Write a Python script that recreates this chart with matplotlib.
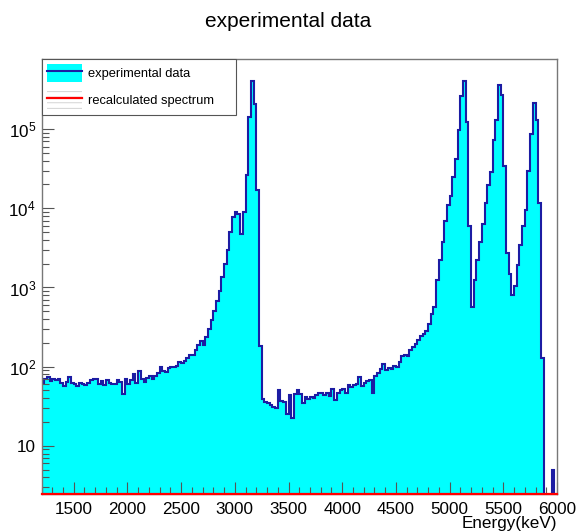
import numpy as np
import matplotlib
matplotlib.use("Agg")
from matplotlib import pyplot as plt
from matplotlib.patches import Patch
from matplotlib.lines import Line2D
from matplotlib.ticker import MultipleLocator, LogLocator, FuncFormatter

plt.rcParams['font.family'] = ['Liberation Sans', 'DejaVu Sans']
plt.rcParams['mathtext.fontset'] = 'custom'
plt.rcParams['mathtext.rm'] = 'Liberation Sans'
plt.rcParams['mathtext.it'] = 'Liberation Sans:italic'
plt.rcParams['hatch.linewidth'] = 0.6

# binning: 25 keV bins from 1200 to 6000 keV
e_min, e_max, bin_width = 1200, 6000, 25

# counts per bin
counts_flat = [62, 70, 75, 65, 70, 67, 70, 62, 57, 64,
               75, 62, 60, 57, 63, 60, 58, 62, 67, 70,
               69, 60, 65, 59, 67, 62, 60, 61, 67, 64,
               45, 69, 60, 67, 80, 62, 89, 69, 64, 71,
               76, 70, 76, 83, 98, 89, 85, 95, 99, 100,
               103, 115, 110, 118, 128]
counts_gd = [140, 140, 160, 190, 210, 190, 235, 300, 390, 500,
             680, 910, 1350, 2000, 2950, 5000, 7750, 9000, 8500, 4800,
             9000, 26000, 143000, 400000, 210000, 17000, 185]
counts_valley = [39, 36, 35, 33, 31, 30, 50, 37, 36, 25, 44, 22.5, 45, 50, 45,
                 35, 41, 39, 41, 40, 44, 47, 46, 44, 47,
                 43, 52, 38, 47, 50, 52, 47, 59, 55, 58,
                 60, 74, 57, 63, 65, 67, 47, 77, 82, 93,
                 108, 91, 96, 93, 102, 99]
counts_rise = [115, 135, 140, 137, 160, 175, 195, 215, 245, 260, 286, 347, 457, 575]
counts_alpha = [1230, 2200, 3800, 7000, 11000, 14500, 24500, 42500, 97000, 260000,
                400000, 124000, 5900, 575, 1230, 2200, 3750, 6400, 11700, 19600,
                29000, 72500, 130000, 360000, 270000, 34000, 2700, 1490, 810, 1030,
                1900, 3400, 6000, 9400, 30000, 88000, 215000, 130000, 11700, 130,
                0, 0, 0, 5, 0]

counts = np.array(counts_flat + counts_gd + counts_valley + counts_rise + counts_alpha, dtype=float)
edges = np.arange(e_min, e_max + 1, bin_width)
recalc = np.zeros(len(counts))   # recalculated spectrum sits at the floor

y_lo, y_hi = 2.5, 7.8e5
navy = '#1c1ca3'

fig = plt.figure(figsize=(5.76, 5.32), dpi=100)
ax = fig.add_axes([41.5/576, 1-493.5/532, (557-41.5)/576, (493.5-58.5)/532])

plot_vals = np.where(counts > 0, counts, 1e-3)
ax.stairs(plot_vals, edges, fill=True, facecolor='#00ffff', edgecolor='none',
          baseline=1e-3, lw=0)
ax.stairs(plot_vals, edges, color=navy, lw=1.5, baseline=None)

rc = np.maximum(recalc, y_lo)
ax.plot(edges, np.append(rc, rc[-1]), drawstyle='steps-post', color='red',
        lw=1.6, clip_on=False, zorder=5)

ax.set_yscale('log')
ax.set_xlim(e_min, e_max)
ax.set_ylim(y_lo, y_hi)

ax.xaxis.set_major_locator(MultipleLocator(500))
ax.xaxis.set_minor_locator(MultipleLocator(100))
ax.yaxis.set_major_locator(LogLocator(base=10))
ax.yaxis.set_minor_locator(LogLocator(base=10, subs=np.arange(2, 10)))
ax.yaxis.set_minor_formatter(FuncFormatter(lambda v, p: ''))
ax.yaxis.set_major_formatter(FuncFormatter(
    lambda v, p: '10' if abs(v - 10) < 1e-6 else r'$10^{%d}$' % round(np.log10(v))))

ax.tick_params(which='both', direction='in', top=False, right=False,
               color='#555555', labelsize=12.3)
ax.tick_params(which='major', length=8.5, width=0.8)
ax.tick_params(which='minor', length=4.7, width=0.8)
ax.tick_params(axis='x', pad=6)
ax.tick_params(axis='y', pad=4)
for s in ax.spines.values():
    s.set_color('#777777')
    s.set_linewidth(1.0)

ax.set_xlabel('Energy(keV)', loc='right', fontsize=12.3, labelpad=-0.5)

fig.text(0.5, 1-21.5/532, 'experimental data', ha='center', va='center', fontsize=15)

h1 = (Patch(facecolor='#00ffff', edgecolor='none'), Line2D([], [], color=navy, lw=1.5))
h2 = (Patch(facecolor='none', edgecolor='#cccccc', hatch='---', lw=0),
      Line2D([], [], color='red', lw=1.6))
leg_w = (235.7 - 41.5) / (557 - 41.5)
leg = ax.legend([h1, h2], ['experimental data', 'recalculated spectrum'],
                loc='upper left', bbox_to_anchor=(0, 1, leg_w, 0), mode='expand',
                borderaxespad=0, fontsize=9.3, handlelength=2.67, handleheight=1.7,
                handletextpad=0.5, borderpad=0.45, labelspacing=0.75,
                fancybox=False, framealpha=1, edgecolor='#555555')
leg.get_frame().set_linewidth(0.8)
leg.set_zorder(7)

fig.savefig('out.png', dpi=100)
